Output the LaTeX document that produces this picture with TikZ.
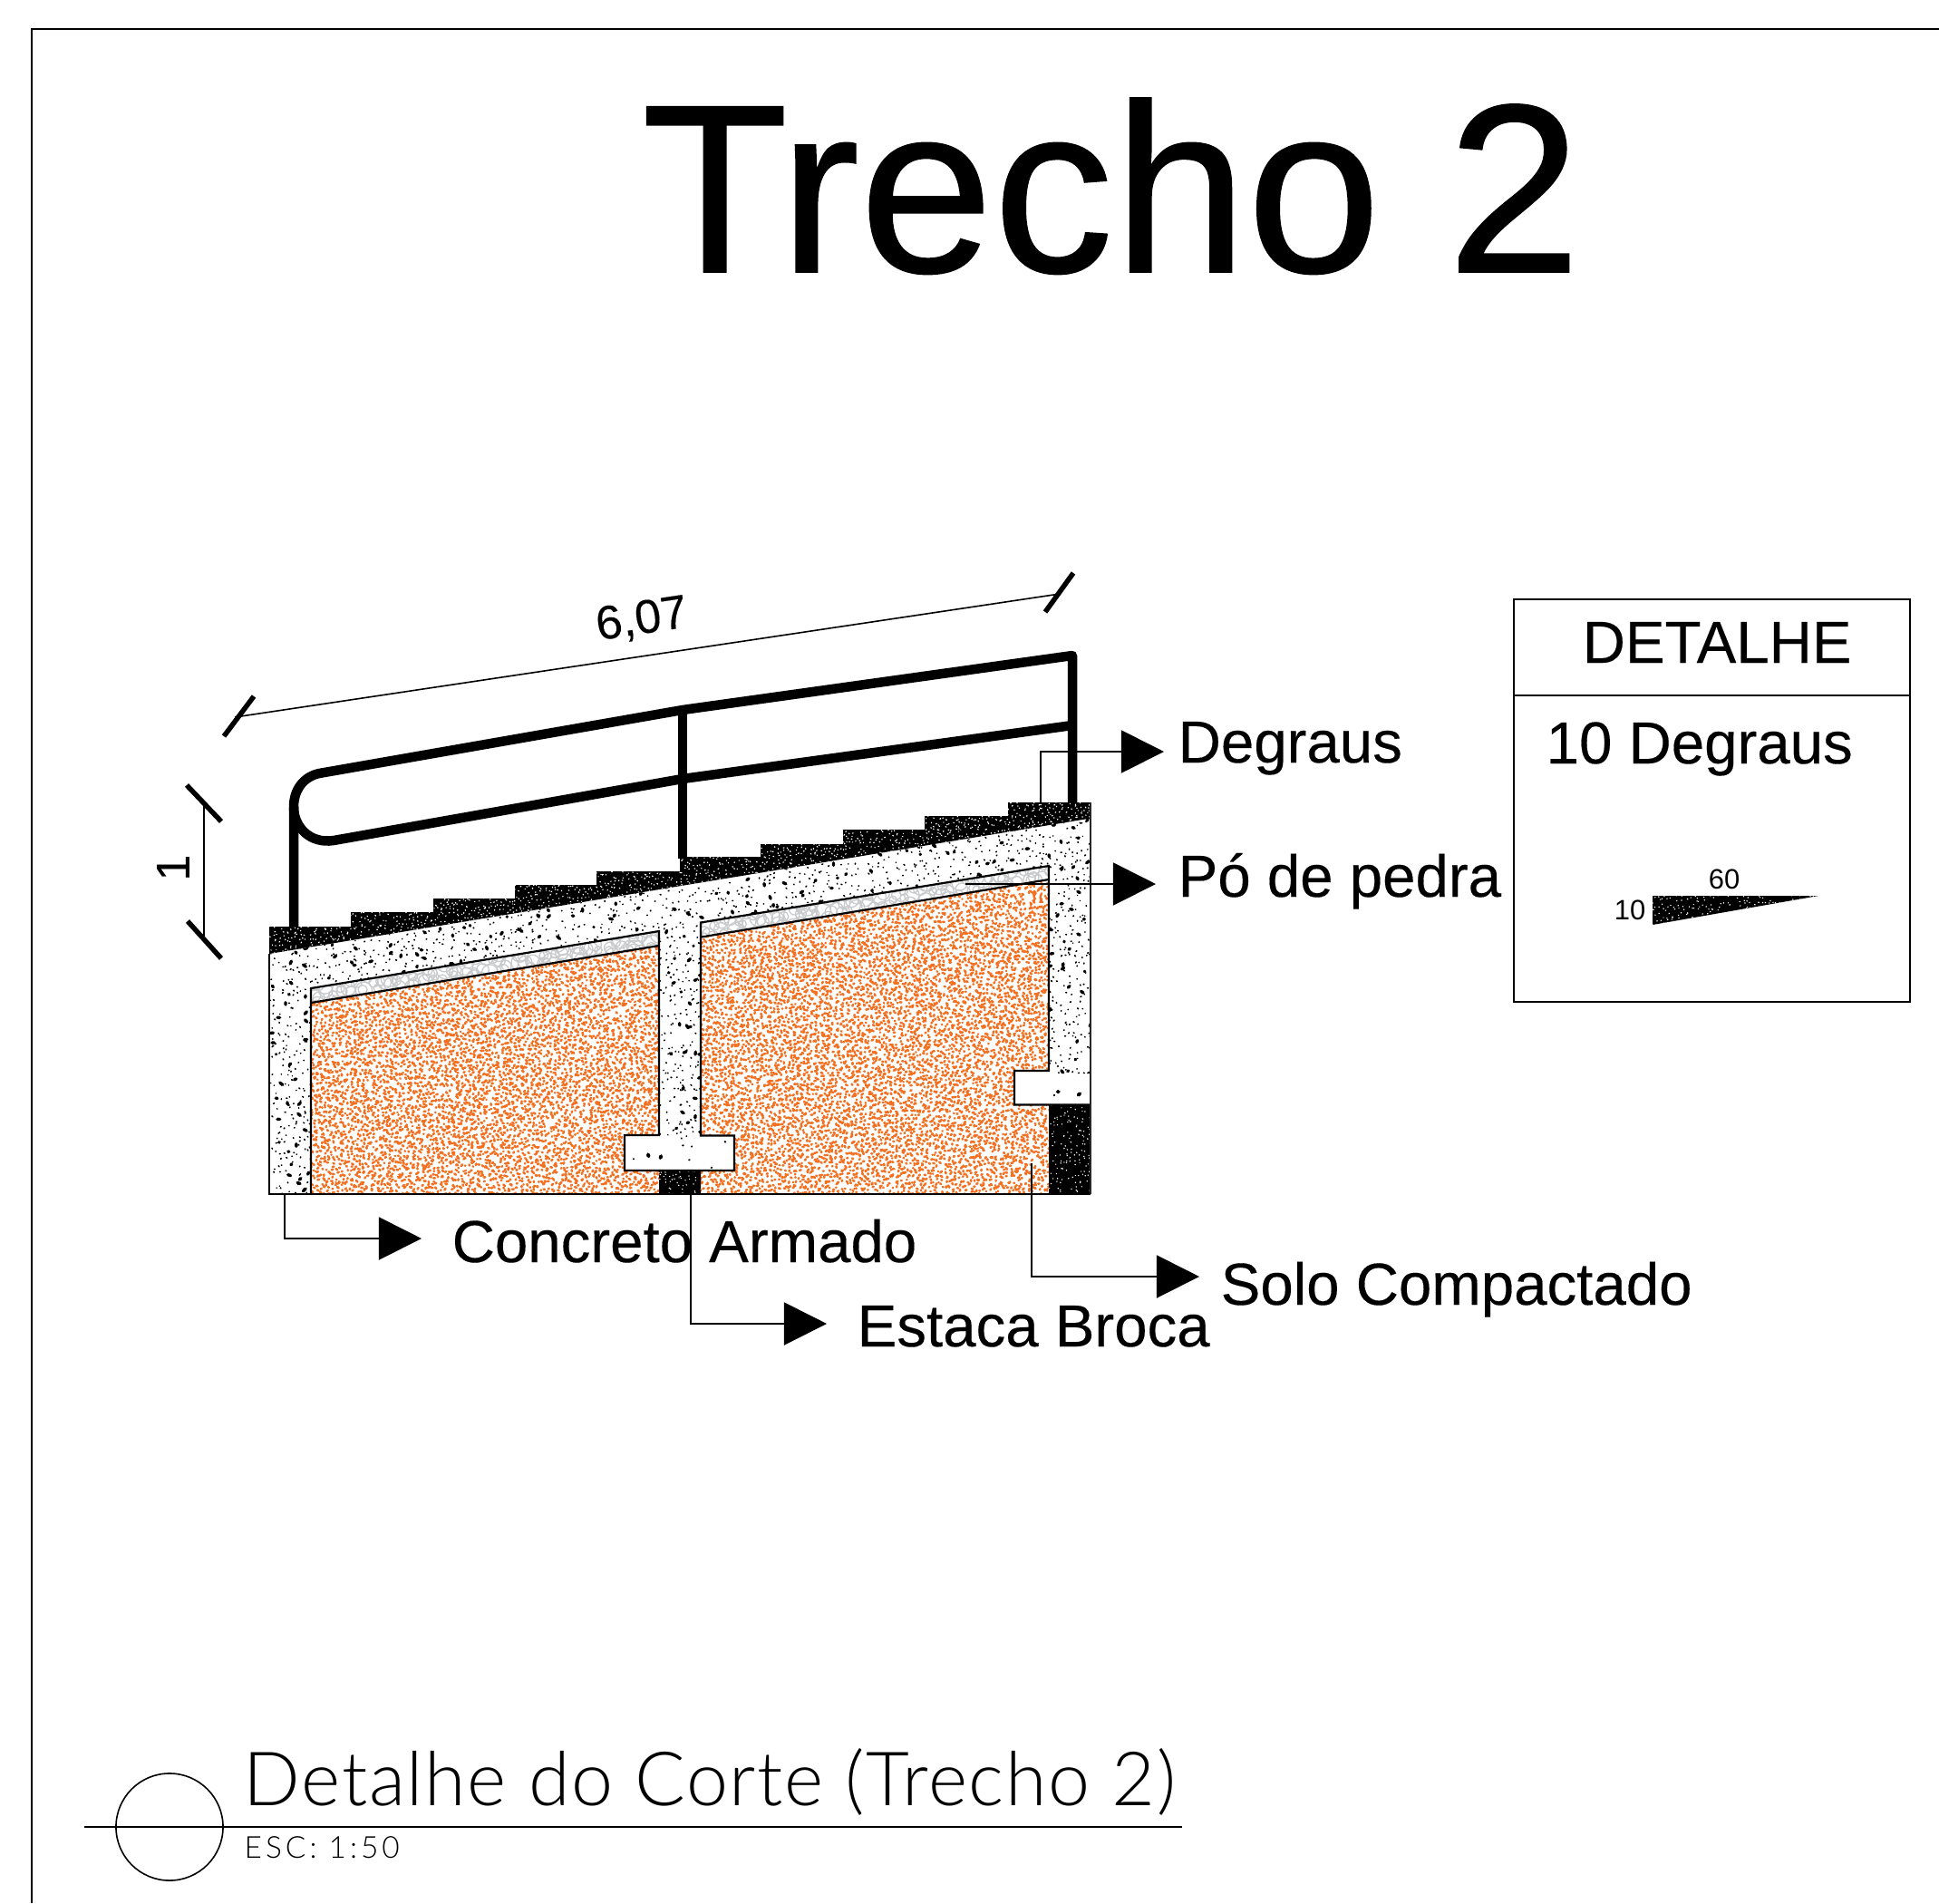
\documentclass[tikz,border=0pt]{standalone}
\usepackage{fontspec}
\setmainfont{Liberation Sans}
\newfontfamily\boldishfont[FakeBold=0.6]{Liberation Sans}
\newfontfamily\labelfont[FakeBold=0.25]{Liberation Sans}
\newfontfamily\handfont[LetterSpace=2]{Lato Light}
\newfontfamily\handsmallfont[LetterSpace=12]{Lato Light}
\usetikzlibrary{arrows.meta}
\definecolor{solo}{RGB}{243,112,33}
\definecolor{brita}{RGB}{200,202,204}
\definecolor{thinline}{RGB}{40,40,40}
% --- pseudo random texture engine (pixel units, 1px = 18647sp)
\newcount\rnd \rnd=48271
\newcount\cx \newcount\cy \newcount\tx \newcount\ty \newcount\tu \newcount\tv
\def\nextrnd{\global\rnd=\numexpr\rnd*1021-(\rnd*1021/1048573)*1048573\relax
  \ifnum\rnd<0 \global\advance\rnd 1048573 \fi}
\def\spkpos{\nextrnd\tx=\numexpr\cx*18647+\rnd*(\sst*18647)/1048573\relax
  \nextrnd\ty=\numexpr\cy*18647+\rnd*(\sst*18647)/1048573\relax}
\def\segbody{\spkpos
  \nextrnd\tu=\numexpr\tx+\rnd*(2*\sln*1865)/1048573-\sln*1865\relax
  \nextrnd\tv=\numexpr\ty+\rnd*(2*\sln*1865)/1048573-\sln*1865\relax
  \pgfpathmoveto{\pgfqpoint{\tx sp}{-\ty sp}}\pgfpathlineto{\pgfqpoint{\tu sp}{-\tv sp}}}
\def\circbody{\spkpos
  \nextrnd\tu=\numexpr 75000+\rnd*100000/1048573\relax
  \edef\crad{\the\dimexpr\tu sp\relax}%
  \pgfpathcircle{\pgfqpoint{\tx sp}{-\ty sp}}{\crad}}
\def\spkrow{\ifnum\cy<\syb\relax \cx=\sxa\relax\spkcell\pgfusepath{stroke}%
  \advance\cy\sst\relax\expandafter\spkrow\fi}
\def\spkcell{\ifnum\cx<\sxb\relax \nextrnd
  \ifnum\numexpr\rnd*100/1048573\relax<\spr\relax\spkbody\fi
  \advance\cx\sst\relax\expandafter\spkcell\fi}
% #1 x0 #2 y0 #3 x1 #4 y1 #5 step #6 probability #7 length in tenths of px
\def\speck#1#2#3#4#5#6#7{\def\sxa{#1}\def\sxb{#3}\def\syb{#4}\def\sst{#5}\def\spr{#6}\def\sln{#7}\let\spkbody\segbody\cy=#2\relax\spkrow}
\def\foam#1#2#3#4#5{\def\sxa{#1}\def\sxb{#3}\def\syb{#4}\def\sst{#5}\def\spr{100}\let\spkbody\circbody\cy=#2\relax\spkrow}
\def\penset#1#2{\pgfsetstrokecolor{#1}\pgfsetlinewidth{#2}\pgfsetroundcap}
\tikzset{
  concretearea/.style={insert path={(297,1052)--(1203,902.5)--(1203,1184)--(1157,1184)--(1157,955)--(773,1017.5)--(773,1255)--(727,1255)--(727,1027)--(343,1090)--(343,1317)--(297,1317)--cycle}},
  footarea/.style={insert path={(689,1252)rectangle(810,1291)(1119,1181)rectangle(1203,1218.5)}},
  darkarea/.style={insert path={(297,1052)--(297,1022)--(387,1022)--(387,1006)--(478,1006)--(478,991)--(568,991)--(568,976)--(658,976)--(658,961)--(750,961)--(750,945)--(839,945)--(839,931)--(930,931)--(930,915)--(1020,915)--(1020,900)--(1112,900)--(1112,885)--(1203,885)--(1203,902.5)--cycle
    (727,1291)rectangle(773,1317)(1157,1218.5)rectangle(1203,1317)}},
  wedgearea/.style={insert path={(1823,988)--(2006,988)--(1823,1020)--cycle}},
  soilarea/.style={insert path={(343,1106)--(727,1043)--(727,1252)--(689,1252)--(689,1291)--(727,1291)--(727,1317)--(343,1317)--cycle
    (773,1033.6)--(1157,970)--(1157,1181)--(1119,1181)--(1119,1218.5)--(1157,1218.5)--(1157,1317)--(773,1317)--(773,1291)--(810,1291)--(810,1252)--(773,1252)--cycle}},
  gravelarea/.style={insert path={(343,1090)--(727,1027)--(727,1043)--(343,1106)--cycle (773,1017.5)--(1157,955)--(1157,970)--(773,1033.6)--cycle}},
  outline/.style={line width=0.022cm,black,line join=miter},
  rail/.style={line width=0.105cm,black,line cap=butt,line join=round},
  leader/.style={line width=0.018cm,black},
  leadarrow/.style={leader,-{Triangle[length=0.47cm,width=0.47cm]}},
  dimline/.style={line width=0.016cm,black},
  dimtick/.style={line width=0.055cm,black},
  labeltext/.style={anchor=base west,inner sep=0pt,font=\labelfont\fontsize{18.6}{22}\selectfont},
  dimtext/.style={inner sep=0pt,font=\labelfont\fontsize{14.8}{17}\selectfont},
  smalltext/.style={inner sep=0pt,font=\fontsize{8.8}{10}\selectfont},
  titletext/.style={anchor=base west,inner sep=0pt,font=\boldishfont\fontsize{75.4}{80}\selectfont},
  handtext/.style={anchor=base west,inner sep=0pt,font=\handfont\fontsize{23.5}{28}\selectfont},
  handsmall/.style={anchor=base west,inner sep=0pt,font=\handsmallfont\fontsize{9.5}{11}\selectfont},
}
\begin{document}
\begin{tikzpicture}[x=0.01cm,y=-0.01cm]
\useasboundingbox (0,0) rectangle (2139,2099);
\fill[white] (0,0) rectangle (2139,2099);
% frame
\draw[line width=0.022cm] (35,2099) -- (35,32) -- (2139,32);
\node[titletext] (title) at (707,300) {Trecho 2};
% soil
\begin{scope}
  \clip[soilarea];
  \penset{solo}{0.72pt}
  \speck{340}{960}{1160}{1320}{4}{92}{18}
\end{scope}
% gravel
\begin{scope}
  \clip[gravelarea];
  \penset{brita}{0.36pt}
  \foam{340}{1010}{735}{1110}{9}
  \foam{770}{950}{1160}{1040}{9}
\end{scope}
% concrete
\begin{scope}
  \clip[concretearea];
  \penset{black}{0.45pt}
  \speck{295}{895}{1205}{1320}{6}{55}{10}
  \penset{black}{0.95pt}
  \speck{295}{895}{1205}{1320}{14}{50}{30}
\end{scope}
\begin{scope}
  \clip[footarea];
  \penset{black}{0.55pt}
  \speck{685}{1250}{812}{1292}{12}{18}{10}
  \speck{1117}{1180}{1204}{1220}{12}{18}{10}
  \penset{black}{1.1pt}
  \speck{685}{1250}{812}{1292}{30}{30}{30}
  \speck{1117}{1180}{1204}{1220}{30}{30}{30}
\end{scope}
% dark fill
\fill[black,darkarea];
\begin{scope}
  \clip[darkarea];
  \penset{white}{0.34pt}
  \speck{295}{880}{1205}{1055}{4}{70}{8}
  \speck{725}{1290}{775}{1318}{4}{50}{6}
  \speck{1155}{1216}{1205}{1318}{4}{50}{6}
\end{scope}
% outlines
\draw[outline] (343,1317) -- (343,1090) -- (727,1027) -- (727,1252) -- (689,1252) -- (689,1291) -- (810,1291) -- (810,1252.5) -- (773,1252.5) -- (773,1017.5) -- (1157,955) -- (1157,1181) -- (1119,1181) -- (1119,1218.5) -- (1203,1218.5);
\draw[outline] (343,1106) -- (727,1043);
\draw[outline] (773,1033.6) -- (1157,970);
\draw[outline] (297,1052) -- (297,1317) -- (1203,1317);
\draw[line width=0.016cm,thinline] (1203,885) -- (1203,1317);
% handrail
\draw[rail] (324,1022) -- (324,890) .. controls (324,872) and (334,857) .. (352,853) -- (753,783) -- (1183,723) -- (1183,885);
\draw[rail] (324,890) .. controls (324,912) and (342,931) .. (368,927) -- (753,859) -- (1183,800);
\draw[rail] (753,783) -- (753,947);
% dimensions
\coordinate (dima) at (259,791);
\coordinate (dimb) at (1169,655);
\draw[dimline] (dima) -- (dimb);
\draw[dimtick] (247,812) -- (280,768);
\draw[dimtick] (1153,675) -- (1184,632);
\node[dimtext,rotate=8.5] (dimlen) at (708,684) {6,07};
\coordinate (dimc) at (225,887);
\coordinate (dimd) at (225,1037);
\draw[dimline] (dimc) -- (dimd);
\draw[dimtick] (206,866) -- (244,906);
\draw[dimtick] (207,1016) -- (244,1057);
\node[dimtext,rotate=90] (dimh) at (191,957) {1};
% labels
\node[labeltext] (degraus) at (1299,841) {Degraus};
\node[labeltext] (po) at (1299,989) {Pó de pedra};
\node[labeltext] (concreto) at (498,1392) {Concreto Armado};
\node[labeltext] (estaca) at (945,1485) {Estaca Broca};
\node[labeltext] (solotxt) at (1346,1439) {Solo Compactado};
% leaders
\coordinate (la) at (1148,885);   \coordinate (lat) at (1284,829);
\coordinate (lb) at (1065,975);   \coordinate (lbt) at (1275,975);
\coordinate (lc) at (314,1317);   \coordinate (lct) at (465,1366);
\coordinate (ld) at (762,1317);   \coordinate (ldt) at (912,1460);
\coordinate (le) at (1138,1283);  \coordinate (let) at (1323,1408);
\draw[leadarrow] (la) |- (lat);
\draw[leadarrow] (lb) -- (lbt);
\draw[leadarrow] (lc) |- (lct);
\draw[leadarrow] (ld) |- (ldt);
\draw[leadarrow] (le) |- (let);
% detail box
\draw[line width=0.018cm,black] (1670,661) rectangle (2107,1105);
\draw[line width=0.018cm,black] (1670,767) -- (2107,767);
\node[labeltext] (detalhe) at (1745,731) {DETALHE};
\node[labeltext] (dezdeg) at (1705,842) {10 Degraus};
\fill[black,wedgearea];
\begin{scope}
  \clip[wedgearea];
  \penset{white}{0.34pt}
  \speck{1820}{985}{2010}{1022}{4}{60}{6}
\end{scope}
\node[smalltext,anchor=base] (w60) at (1902,980) {60};
\node[smalltext,anchor=base east] (w10) at (1816,1014) {10};
% title block
\node[circle,draw,line width=0.016cm,minimum size=1.18cm,inner sep=0pt] (bubble) at (187,2015) {};
\coordinate (tla) at (93,2015);
\coordinate (tlb) at (1304,2015);
\draw[line width=0.025cm] (tla) -- (tlb);
\node[handtext] (cap) at (268,1991) {Detalhe do Corte (Trecho 2)};
\node[handsmall] (esc) at (269,2049) {ESC: 1:50};
\end{tikzpicture}
\end{document}
